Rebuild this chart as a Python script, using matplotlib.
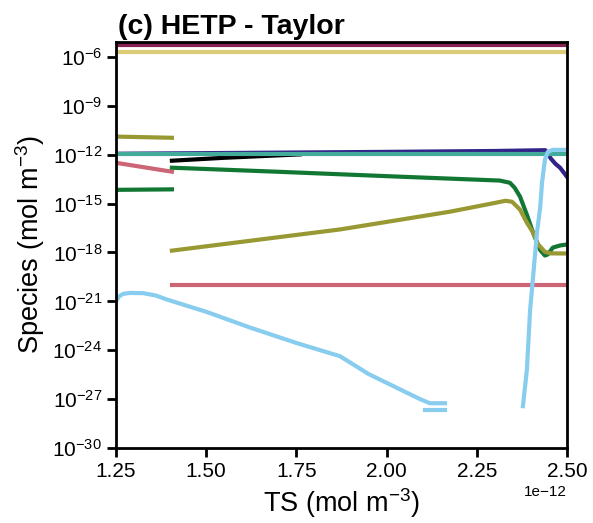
import matplotlib
matplotlib.use("Agg")
import matplotlib.pyplot as plt
import numpy as np

# TS values are in units of 1e-12 mol m-3
wine_x = [1.25, 2.50]
wine_y = [5.4e-6, 5.4e-6]

sand_x = [1.25, 2.50]
sand_y = [2.0e-6, 2.0e-6]

olive1_x = [1.25, 1.405]
olive1_y = [1.3e-11, 1.1e-11]
olive2_x = [1.405, 1.871, 2.176, 2.30, 2.330, 2.348, 2.370, 2.389, 2.406, 2.420, 2.439, 2.455, 2.50]
olive2_y = [1.3e-18, 2.6e-17, 3.2e-16, 1.1e-15, 1.5e-15, 1.3e-15, 4.3e-16, 6.8e-17, 1.7e-17, 3.2e-18, 1.1e-18,
            8.8e-19, 8.7e-19]

teal_x = [1.25, 2.50]
teal_y = [1.15e-12, 1.15e-12]

indigo_x = [1.25, 1.60, 2.00, 2.30, 2.440, 2.447, 2.455, 2.468, 2.481, 2.50]
indigo_y = [1.15e-12, 1.3e-12, 1.5e-12, 1.7e-12, 1.9e-12, 1.3e-12, 6.0e-13, 2.8e-13, 1.6e-13, 4.5e-14]

black_x = [1.405, 1.55, 1.76]
black_y = [4.3e-13, 6.5e-13, 1.05e-12]

rose1_x = [1.25, 1.405]
rose1_y = [3.2e-13, 9.1e-14]
rose2_x = [1.405, 2.50]
rose2_y = [1.0e-20, 1.0e-20]

green1_x = [1.25, 1.405]
green1_y = [7.0e-15, 7.5e-15]
green2_x = [1.405, 1.70, 2.037, 2.314, 2.342, 2.355, 2.370, 2.389, 2.406, 2.425, 2.439, 2.447, 2.461, 2.481, 2.50]
green2_y = [1.6e-13, 9.0e-14, 4.5e-14, 2.6e-14, 1.9e-14, 9.5e-15, 2.7e-15, 2.1e-16, 1.7e-17, 1.5e-18,
            6.5e-19, 7.6e-19, 2.0e-18, 2.7e-18, 3.1e-18]

sky1_x = [1.25, 1.258, 1.27, 1.289, 1.325, 1.36, 1.391, 1.50, 1.621, 1.75, 1.871, 1.95, 2.037, 2.093, 2.12, 2.162]
sky1_y = [1.0e-21, 2.0e-21, 2.9e-21, 3.3e-21, 3.2e-21, 2.3e-21, 1.3e-21, 2.3e-22, 2.5e-23, 2.8e-24, 4.3e-25,
          3.5e-26, 4.0e-27, 1.0e-27, 5.6e-28, 5.6e-28]
sky1b_x = [2.106, 2.162]
sky1b_y = [2.1e-28, 2.1e-28]
sky2_x = [2.378, 2.389, 2.398, 2.403, 2.417, 2.426, 2.431, 2.439, 2.447, 2.461, 2.50]
sky2_y = [3.7e-28, 6.0e-26, 3.0e-22, 5.0e-21, 1.7e-17, 6.0e-16, 1.9e-14, 4.9e-13, 1.5e-12, 2.0e-12, 2.0e-12]

plt.rcParams['font.family'] = ['Liberation Sans', 'DejaVu Sans']
plt.rcParams['mathtext.fontset'] = 'custom'
plt.rcParams['mathtext.rm'] = 'Liberation Sans'
plt.rcParams['mathtext.it'] = 'Liberation Sans:italic'
plt.rcParams['mathtext.bf'] = 'Liberation Sans:bold'

fig = plt.figure(figsize=(5.93, 5.23), dpi=100)
ax = fig.add_axes([0.1956, 0.1434, 0.7604, 0.7763])

lw = 3.0
s = 1e-12
ax.plot(np.array(wine_x) * s, wine_y, color="#882255", lw=lw)
ax.plot(np.array(sand_x) * s, sand_y, color="#DDCC77", lw=lw)
ax.plot(np.array(rose1_x) * s, rose1_y, color="#CC6677", lw=lw)
ax.plot(np.array(rose2_x) * s, rose2_y, color="#CC6677", lw=lw)
ax.plot(np.array(green1_x) * s, green1_y, color="#117733", lw=lw)
ax.plot(np.array(green2_x) * s, green2_y, color="#117733", lw=lw)
ax.plot(np.array(olive1_x) * s, olive1_y, color="#999933", lw=lw)
ax.plot(np.array(olive2_x) * s, olive2_y, color="#999933", lw=lw)
ax.plot(np.array(black_x) * s, black_y, color="black", lw=lw)
ax.plot(np.array(indigo_x) * s, indigo_y, color="#332288", lw=lw)
ax.plot(np.array(teal_x) * s, teal_y, color="#44AA99", lw=lw)
ax.plot(np.array(sky1_x) * s, sky1_y, color="#88CCEE", lw=lw)
ax.plot(np.array(sky1b_x) * s, sky1b_y, color="#88CCEE", lw=lw)
ax.plot(np.array(sky2_x) * s, sky2_y, color="#88CCEE", lw=lw)

ax.set_yscale('log')
ax.set_xlim(1.25e-12, 2.5e-12)
ax.set_ylim(1e-30, 10 ** -5.08)
ax.set_xticks(np.array([1.25, 1.50, 1.75, 2.00, 2.25, 2.50]) * s)
ax.set_yticks([10.0 ** e for e in range(-30, -5, 3)])
ax.yaxis.set_minor_locator(matplotlib.ticker.NullLocator())

for sp in ax.spines.values():
    sp.set_linewidth(2)
ax.tick_params(axis='both', labelsize=15, width=2, length=6.5, direction='out')
ax.xaxis.get_offset_text().set_fontsize(11)

ax.set_xlabel(r"TS (mol m$^{-3}$)", fontsize=19.5)
ax.set_ylabel(r"Species (mol m$^{-3}$)", fontsize=19.5)
ax.set_title("(c) HETP - Taylor", fontsize=20.5, fontweight='bold', loc='left', pad=6, x=0.004)

fig.savefig("out.png", dpi=100)
